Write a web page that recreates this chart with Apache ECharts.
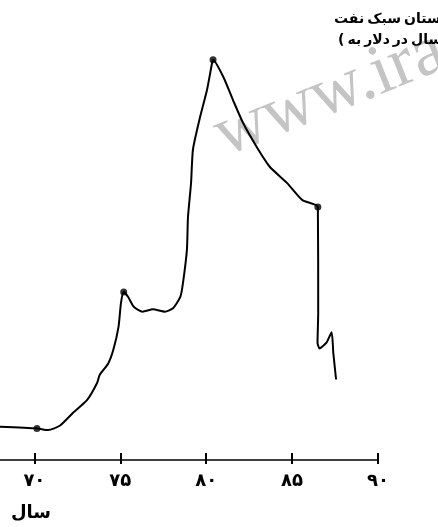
<!DOCTYPE html>
<html>
<head>
<meta charset="utf-8">
<script src="https://cdn.jsdelivr.net/npm/echarts@6/dist/echarts.min.js"></script>
<style>
html,body{margin:0;padding:0;background:#fff;}
#chart{width:438px;height:527px;}
</style>
</head>
<body>
<div id="chart"></div>
<script>
// Curve: year vs. price
const years = [68.0, 70.15, 70.8, 71.5, 72.25, 73.06, 73.65, 73.8, 74.3, 74.6, 74.9, 75.04, 75.2, 75.45, 75.8, 76.3, 76.9, 77.6, 78.07, 78.5, 78.65, 78.88, 78.94, 79.12, 79.23, 79.64, 80.05, 80.34, 80.4, 81.0, 81.56, 82.15, 82.95, 83.7, 84.7, 85.6, 86.5, 86.52, 86.48, 86.6, 87.0, 87.3, 87.4, 87.56];
const prices = [2.9, 2.75, 2.6, 3.0, 4.1, 5.2, 6.7, 7.4, 8.4, 9.6, 11.6, 13.65, 14.6, 14.2, 13.3, 12.9, 13.1, 12.9, 13.2, 14.2, 15.4, 18.3, 21.1, 24.1, 27.0, 29.8, 32.2, 34.5, 34.8, 33.3, 31.3, 29.3, 27.2, 25.5, 24.1, 22.6, 22.0, 12.8, 10.2, 9.7, 10.2, 11.1, 9.3, 7.0];
// Marked points
const markerYears = [70.15, 75.2, 80.4, 86.5];
const markerPrices = [2.75, 14.6, 34.8, 22.0];
// Axis ticks
const tickValues = [70, 75, 80, 85, 90];
const tickLabels = ['۷۰', '۷۵', '۸۰', '۸۵', '۹۰'];
// Texts (words kept in the picture's left-to-right order)
const titleWords1 = ['نفت', 'سبک', 'عربستان'];
const titleWords2 = ['(', 'به', 'دلار', 'در', 'سال'];
const axisName = 'سال';
const watermark = 'www.ira';

const chart = echarts.init(document.getElementById('chart'), null, {renderer: 'canvas'});
const lineData = years.map((y, i) => [y, prices[i]]);
const markerData = markerYears.map((y, i) => [y, markerPrices[i]]);
const labelMap = {};
tickValues.forEach((v, i) => { labelMap[v] = tickLabels[i]; });

const titleFont = 'bold 14px "DejaVu Sans"';
const measureCtx = document.createElement('canvas').getContext('2d');
measureCtx.font = titleFont;
function wordRow(words, x0, y, gap) {
  const out = [];
  let x = x0;
  words.forEach(w => {
    out.push({type: 'text', x: x, y: y, z: 10,
      style: {text: w, font: titleFont, fill: '#000', align: 'left', verticalAlign: 'middle'}});
    x += measureCtx.measureText(w).width + gap;
  });
  return out;
}

chart.setOption({
  animation: false,
  backgroundColor: '#ffffff',
  grid: {left: 0, right: 60, top: 0, bottom: 67, containLabel: false},
  xAxis: [{
    type: 'value', min: 68, max: 90, position: 'bottom',
    axisLine: {show: true, lineStyle: {color: '#000', width: 1.6}},
    axisTick: {show: true, customValues: tickValues, length: 4, lineStyle: {color: '#000', width: 2}},
    axisLabel: {show: true, customValues: tickValues, margin: 12,
      formatter: v => labelMap[v] || '',
      fontFamily: 'DejaVu Sans', fontWeight: 'bold', fontSize: 18, color: '#000'},
    splitLine: {show: false}
  }, {
    type: 'value', min: 68, max: 90, position: 'bottom',
    axisLine: {show: false},
    axisTick: {show: true, inside: true, customValues: tickValues, length: 7, lineStyle: {color: '#000', width: 2}},
    axisLabel: {show: false},
    splitLine: {show: false}
  }],
  yAxis: {type: 'value', min: 0, max: 40, show: false, splitLine: {show: false}},
  graphic: [
    {type: 'text', x: 231, y: 172, rotation: 0.38, silent: true, z: 0, zlevel: 0,
      style: {text: watermark, font: '71px "Liberation Serif"', fill: '#c4c4c4', verticalAlign: 'bottom', align: 'left'}},
    {type: 'text', x: 31, y: 513,
      style: {text: axisName, font: 'bold 18px "DejaVu Sans"', fill: '#000', align: 'center', verticalAlign: 'middle'}}
  ].concat(wordRow(titleWords1, 334, 19, 3), wordRow(titleWords2, 338, 40, 3)),
  series: [{
    type: 'line', xAxisIndex: 0, data: lineData, smooth: 0.2, symbol: 'none', z: 3,
    lineStyle: {color: '#000', width: 2}
  }, {
    type: 'scatter', xAxisIndex: 0, data: markerData, symbol: 'circle', symbolSize: 7, z: 4,
    itemStyle: {color: '#000'}
  }]
});
</script>
</body>
</html>
